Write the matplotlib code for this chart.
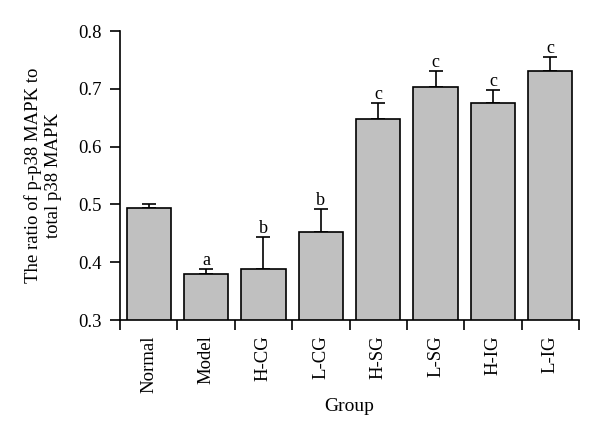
import numpy as np
import matplotlib.pyplot as plt

groups = ['Normal', 'Model', 'H-CG', 'L-CG', 'H-SG', 'L-SG', 'H-IG', 'L-IG']
ratio = [0.493, 0.379, 0.389, 0.453, 0.648, 0.703, 0.675, 0.731]
err = [0.008, 0.009, 0.054, 0.039, 0.028, 0.027, 0.023, 0.024]
letters = ['', 'a', 'b', 'b', 'c', 'c', 'c', 'c']

plt.rcParams['font.family'] = ['Liberation Serif', 'DejaVu Serif']

fig = plt.figure(figsize=(6, 4.37), dpi=100)
ax = fig.add_axes([0.2, 0.2677, 0.765, 0.6613])

x = np.arange(len(groups))
ax.bar(x, ratio, width=0.77, color='#c0c0c0', edgecolor='black', linewidth=1.2, zorder=2)
ax.errorbar(x, ratio, yerr=[np.zeros(len(err)), err], fmt='none', ecolor='black',
            elinewidth=1.2, capsize=5, capthick=1.2, zorder=1)

for xi, v, e, t in zip(x, ratio, err, letters):
    if t:
        ax.annotate(t, (xi, v + e), xytext=(0, 0), textcoords='offset points',
                    ha='center', va='bottom', fontsize=13)

ax.set_xlim(-0.5, 7.5)
ax.set_ylim(0.3, 0.8)
ax.set_yticks([0.3, 0.4, 0.5, 0.6, 0.7, 0.8])
ax.set_yticklabels(['0.3', '0.4', '0.5', '0.6', '0.7', '0.8'], fontsize=13.5)

# labels at bar centers, ticks at boundaries
ax.set_xticks(x)
ax.set_xticklabels(groups, rotation=90, fontsize=13.5)
ax.set_xticks(np.arange(-0.5, 8, 1), minor=True)
ax.tick_params(axis='x', which='major', length=0, pad=11)
ax.tick_params(axis='x', which='minor', length=7, width=1.2, direction='out')
ax.tick_params(axis='y', length=7, width=1.2, direction='out', pad=6)

for s in ['top', 'right']:
    ax.spines[s].set_visible(False)
for s in ['left', 'bottom']:
    ax.spines[s].set_linewidth(1.2)

ax.set_xlabel('Group', fontsize=14, labelpad=4)
ax.set_ylabel('The ratio of p-p38 MAPK to\ntotal p38 MAPK', fontsize=13.5, labelpad=12)

fig.savefig('out.png', dpi=100)
